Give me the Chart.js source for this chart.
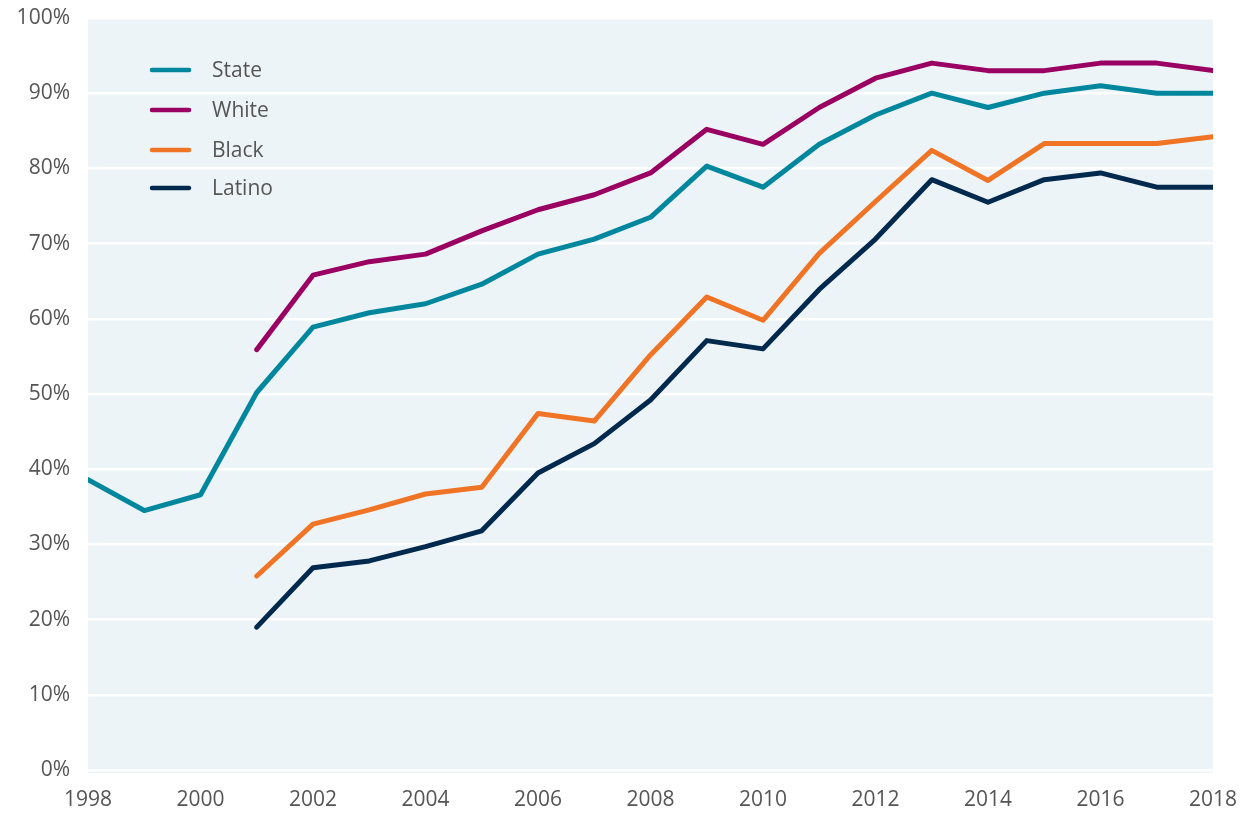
<!DOCTYPE html>
<html>
<head>
<meta charset="utf-8">
<script src="https://cdn.jsdelivr.net/npm/chart.js@4/dist/chart.umd.min.js"></script>
<style>
html,body{margin:0;padding:0;background:#fff;}
#wrap{width:1248px;height:813px;position:relative;}
</style>
</head>
<body>
<div id="wrap"><canvas id="c" width="1248" height="813"></canvas></div>
<script>
const years = [1998,1999,2000,2001,2002,2003,2004,2005,2006,2007,2008,2009,2010,2011,2012,2013,2014,2015,2016,2017,2018];
const stateVals  = [38.6,34.5,36.6,50.2,58.9,60.8,62.0,64.6,68.6,70.6,73.5,80.3,77.5,83.2,87.1,90.0,88.1,90.0,91.0,90.0,90.0];
const whiteVals  = [null,null,null,55.9,65.8,67.6,68.6,71.7,74.5,76.5,79.4,85.2,83.2,88.1,92.0,94.0,93.0,93.0,94.0,94.0,93.0];
const blackVals  = [null,null,null,25.8,32.7,34.6,36.7,37.6,47.4,46.4,55.2,62.9,59.8,68.7,75.6,82.4,78.4,83.3,83.3,83.3,84.2];
const latinoVals = [null,null,null,19.0,26.9,27.8,29.7,31.8,39.5,43.4,49.2,57.1,56.0,63.9,70.6,78.5,75.5,78.5,79.4,77.5,77.5];
const seriesNames = ["State","White","Black","Latino"];
const seriesColors = ["#00879E","#990061","#F07425","#00294D"];
const yTicks = [0,10,20,30,40,50,60,70,80,90,100];

function pts(vals){ const out=[]; vals.forEach((v,i)=>{ if(v!==null) out.push({x:years[i],y:v}); }); return out; }
const allVals=[stateVals,whiteVals,blackVals,latinoVals];

const FONT = "'Open Sans', sans-serif";
const TXT = '#555555';

const bgPlugin = {
  id:'bg',
  beforeDraw(chart){
    const {ctx, chartArea:a} = chart;
    ctx.save(); ctx.fillStyle='#EDF4F7';
    ctx.fillRect(a.left, a.top, a.right-a.left, a.bottom-a.top+3);
    ctx.restore();
  }
};
const legendPlugin = {
  id:'inlegend',
  afterDraw(chart){
    const ctx=chart.ctx;
    const ys=[70,110,150,188];
    ctx.save();
    chart.data.datasets.forEach((ds,i)=>{
      ctx.strokeStyle=ds.borderColor; ctx.lineWidth=4.5; ctx.lineCap='round';
      ctx.beginPath(); ctx.moveTo(152,ys[i]); ctx.lineTo(189,ys[i]); ctx.stroke();
      ctx.fillStyle=TXT; ctx.font='21px '+FONT; ctx.textBaseline='middle'; ctx.textAlign='left';
      ctx.fillText(ds.label, 212, ys[i]+1);
    });
    ctx.restore();
  }
};

new Chart(document.getElementById('c'), {
  type:'line',
  data:{
    datasets: seriesNames.map((n,i)=>({
      label:n, data:pts(allVals[i]), borderColor:seriesColors[i], backgroundColor:seriesColors[i],
      borderWidth:5, pointRadius:0, tension:0, borderCapStyle:'round', borderJoinStyle:'round', fill:false
    }))
  },
  options:{
    responsive:false, animation:false,
    layout:{padding:{top:18,right:35,left:0,bottom:0}},
    plugins:{legend:{display:false}, tooltip:{enabled:false}},
    scales:{
      x:{type:'linear', min:1998, max:2018,
        afterFit(s){ s.height=43; s.paddingLeft=0; s.paddingRight=0; },
        ticks:{stepSize:2, color:TXT, font:{family:FONT,size:21}, padding:17, callback:v=>String(v)},
        grid:{display:false, drawTicks:false}, border:{display:false}},
      y:{min:0,max:100,
        afterFit(s){ s.width=88; s.paddingTop=0; s.paddingBottom=0; },
        afterBuildTicks(s){ s.ticks = yTicks.map(v=>({value:v})); },
        ticks:{color:TXT, font:{family:FONT,size:21}, padding:18, callback:v=>v+'%'},
        grid:{color:'#ffffff', lineWidth:2.5, drawTicks:false}, border:{display:false}}
    }
  },
  plugins:[bgPlugin, legendPlugin]
});
</script>
</body>
</html>
